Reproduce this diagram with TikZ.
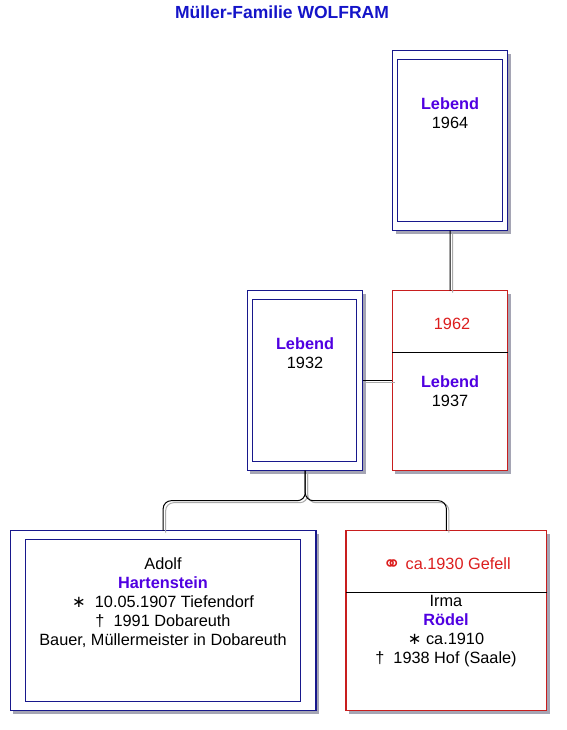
\documentclass[tikz,border=0pt]{standalone}
\usepackage{fontspec}
\setmainfont{Liberation Sans}
\newfontfamily\symfont{DejaVu Sans}
\usetikzlibrary{shadows}
\definecolor{navy}{RGB}{24,24,140}
\definecolor{boxred}{RGB}{200,30,30}
\definecolor{txtred}{RGB}{220,30,30}
\definecolor{lebend}{RGB}{80,0,225}
\definecolor{titleblue}{RGB}{20,20,200}
\definecolor{shadowgray}{RGB}{165,165,180}
\definecolor{lineshadow}{RGB}{170,170,170}
\tikzset{
  base/.style={inner sep=0pt, outer sep=0pt},
  bluebox/.style={base, draw=navy, line width=1.1pt, fill=white,
    general shadow={fill=shadowgray, shadow xshift=3pt, shadow yshift=-3pt}},
  redbox/.style={base, draw=boxred, line width=1.1pt, fill=white,
    general shadow={fill=shadowgray, shadow xshift=3pt, shadow yshift=-3pt}},
  innerbox/.style={base, draw=navy, line width=1pt},
  txt/.style={base, align=center, font=\fontsize{16.3}{19}\selectfont},
  conn/.style={draw=black, line width=1pt},
  connsh/.style={draw=lineshadow, line width=1pt},
  divider/.style={draw=black, line width=1pt},
}
\newcommand{\leb}[1]{\textcolor{lebend}{\bfseries #1}}
\newcommand{\rings}{\raisebox{-2.5pt}{\symfont\fontsize{22}{19}\selectfont ⚭}}
\begin{document}
\begin{tikzpicture}[x=1pt,y=-1pt]
\useasboundingbox (0,0) rectangle (566,730);
% title
\node[base, font=\fontsize{17.5}{20}\selectfont\bfseries, text=titleblue] (title) at (282,12) {Müller-Familie WOLFRAM};

% top box
\node[bluebox, minimum width=115pt, minimum height=180pt, anchor=north west] (p1) at (392.7,50.7) {};
\node[innerbox, minimum width=104.7pt, minimum height=162.4pt, anchor=north west] (p1in) at (397.3,59.3) {};
\node[txt] (t1) at (450,113) {\leb{Lebend}\\1964};

% left middle box
\node[bluebox, minimum width=115.4pt, minimum height=180pt, anchor=north west] (m1) at (247.3,290.7) {};
\node[innerbox, minimum width=104.4pt, minimum height=162.4pt, anchor=north west] (m1in) at (252.3,299.3) {};
\node[txt] (t2) at (305,353) {\leb{Lebend}\\1932};

% red box
\node[redbox, minimum width=115.4pt, minimum height=180pt, anchor=north west] (p2) at (392.3,290.7) {};
\draw[divider] ([yshift=-61.3pt]p2.north west) -- ([yshift=-61.3pt]p2.north east);
\node[txt, text=txtred] (t3) at (452,324) {1962};
\node[txt] (t4) at (450,391) {\leb{Lebend}\\1937};

% bottom left box
\node[bluebox, minimum width=305.7pt, minimum height=180pt, anchor=north west] (c1) at (10.3,530.7) {};
\node[innerbox, minimum width=275.4pt, minimum height=162.4pt, anchor=north west] (c1in) at (25.3,539.3) {};
\node[txt] (t5) at (163,603) {Adolf\\\leb{Hartenstein}\\{\symfont ∗}\ \ 10.05.1907 Tiefendorf\\†\ \ 1991 Dobareuth\\Bauer, Müllermeister in Dobareuth};

% bottom right box
\node[redbox, minimum width=200.7pt, minimum height=180pt, anchor=north west] (c2) at (346,530.7) {};
\draw[divider] ([yshift=-61.3pt]c2.north west) -- ([yshift=-61.3pt]c2.north east);
\node[txt, text=txtred] (t6) at (446.7,564.5) {\rings\ ca.1930 Gefell};
\node[txt] (t7) at (446,631.5) {Irma\\\leb{Rödel}\\{\symfont ∗} ca.1910\\†\ \ 1938 Hof (Saale)};

% connectors
\coordinate (jn) at (305.3,500.7);
\begin{scope}[transform canvas={xshift=2.5pt,yshift=-2pt}]
\draw[connsh] (p1.south) -- (p2.north);
\draw[connsh] (m1.east) -- (m1.east -| p2.west);
\draw[connsh, rounded corners=8pt] (m1.south) -- (jn) -- (jn -| c1.north) -- (c1.north);
\draw[connsh, rounded corners=8pt] (m1.south) -- (jn) -- (jn -| c2.north) -- (c2.north);
\end{scope}
\draw[conn] (p1.south) -- (p2.north);
\draw[conn] (m1.east) -- (m1.east -| p2.west);
\draw[conn, rounded corners=8pt] (m1.south) -- (jn) -- (jn -| c1.north) -- (c1.north);
\draw[conn, rounded corners=8pt] (m1.south) -- (jn) -- (jn -| c2.north) -- (c2.north);
\end{tikzpicture}
\end{document}
